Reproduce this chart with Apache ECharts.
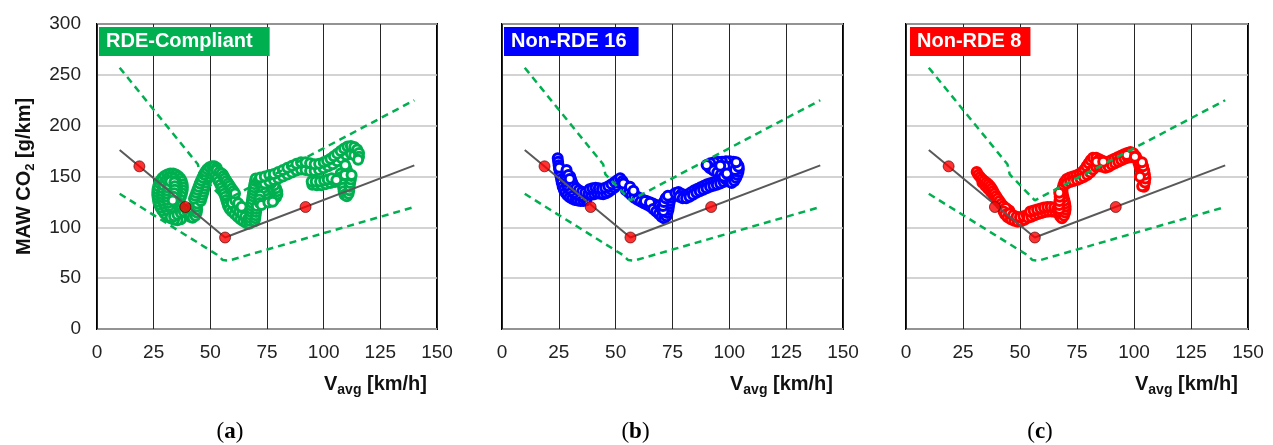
<!DOCTYPE html>
<html><head><meta charset="utf-8">
<script src="https://cdn.jsdelivr.net/npm/echarts/dist/echarts.min.js"></script>
<style>html,body{margin:0;padding:0;background:#fff}#c{width:1273px;height:445px}</style>
</head><body><div id="c"></div>
<script>
// ---- data ----
const panelNames = ['RDE-Compliant', 'Non-RDE 16', 'Non-RDE 8'];
const panelTags = ['a', 'b', 'c'];
const panelColors = ['#00b050', '#0000ff', '#ff0000'];
const xMin = 0, xMax = 150, xStep = 25;
const yMin = 0, yMax = 300, yStep = 50;

// reference CO2 characteristic curve (solid grey) and its 4 defining points
const refLine = [[10,176],[56.5,90],[140,161]];
const refPoints = [[18.7,160],[39,120],[56.5,90],[92,120]];
// tolerance bounds (dashed green)
const upperBound = [[10,257],[44.5,162],[45.5,152],[56.5,126.5],[140,225]];
const lowerBound = [[10,133],[53,73],[55.5,67.8],[58,67.2],[140,120]];

// moving-average windows: [Vavg km/h, MAW CO2 g/km]
const mawRDECompliant = [
[37,108],[35.5,107],[34,107.5],[32.5,109],[31,111],[29.8,113.5],[28.8,116.5],[28,119.5],[27.4,122.5],[27,125.5],[26.8,128.5],[26.6,131.5],[26.6,134.5],[26.7,137.5],[27,140.5],[27.4,143.5],[28,146],[28.8,148.5],[29.8,150.5],[31,152],[32.3,153],[33.6,153],[34.8,152],[35.9,150.3],[36.8,148],[37.4,145.5],[37.8,142.5],[37.9,139.5],[37.8,136.5],[37.5,133.5],[37.1,130.5],[36.6,127.5],[36,124.5],[35.4,121.5],[34.7,118.5],[33.9,115.8],[33,113.5],
[31.8,115],[30.8,117.5],[30,120.5],[29.4,123.5],[29,126.5],[28.8,129.5],[28.7,132.5],[28.8,135.5],[29,138.5],[29.4,141.5],[30,144.5],[30.8,147],[31.8,149],[33,149.5],[34,148],[34.7,145.5],[35.1,142.5],[35.3,139.5],[35.3,136.5],[35.1,133.5],[34.8,130.5],[34.4,127.5],[33.9,124.5],[33.3,121.5],[32.6,119],
[31.8,121],[31.4,124],[31.1,127],[31,130],[31,133],[31.1,136],[31.4,139],[31.8,142],[32.4,145],
[32.5,110],[34,111],[35.5,112.5],[37,114],[38.3,115.5],[39.6,117],[40.8,118.5],[41.8,116.5],[41.5,113.5],[41,110.5],[42.2,109.5],[43.4,111.5],[44,114.5],[44.2,117.5],[44.1,120.5],[44.2,123.5],
[34.1,144],[34.3,140.5],[34.3,137],[34.1,133.5],[33.8,130],[33.4,126.5],
[45.8,126],[46.2,129],[46.6,132],[47,135],[47.3,138],[47.6,141],[48,144],[48.5,147],[49,150],[49.6,153],
[42.8,128],[43.3,131],[43.8,134],[44.3,137],[44.8,140],[45.3,143],[45.9,146],[46.5,149],[47.1,152],[47.8,154.8],[48.6,157.2],[49.6,159.2],[50.7,160.2],[51.8,160],[52.8,158.6],
[51.5,154],[52.3,151],[53,148],[53.7,145],[54.4,142],[55,139],[55.6,136],[56.1,133],[56.6,130],[57,127],[57.4,124],[57.8,121],[58.5,118],
[55.5,152],[56.2,149],[57,146],[57.8,143],
[59.5,115.5],[60.7,113],[62,110.5],[63.3,108],[64.6,106],[66,104],[60.5,121],[61.5,118],[62.7,115.5],[64,113],[65.3,110.5],[66.5,108],[59.5,124],[61,126.5],[62.3,123],[63.5,120],
[52.8,156.3],[54,154.5],[55,153],[55.8,150.5],[56.4,148],[57.1,145.5],[57.9,143.2],[58.6,140.8],[59.4,138.3],[60.2,135.8],[60.9,133.4],[62.3,123.6],[63.8,120.3],
[67.2,103.5],[67.4,106.5],[67.5,109.5],[67.6,112.5],[67.7,115.5],[67.8,118.5],[68,121.5],[68.2,124.5],[68.4,127.5],[68.6,130.5],[68.8,133.5],[69,136.5],[69.2,139.5],[69.4,142.5],[69.7,145.5],[70,148],
[69.5,106],[69.8,109],[70,112],[70.2,115],[70.3,118],[70.5,121],
[71.2,146],[72,143],[72.8,140],[73.5,137],[74.2,134],[75,131],[75.8,128],[76.8,126],[78,127],[79,129.5],[79.6,132.5],[79.5,135.5],[79,138.5],[78.2,141.3],[77,143.5],[75.8,145.5],[72,131],[71.6,127.5],[71.8,124],[72.6,122],[75.6,124.5],[77.5,125.2],
[74,143],[76,145],[78,146.5],[80,148],[82,150],[84,152],[86,154],[88,156],[90,157],[92,156.5],[94,155.5],[96,155.5],[98,156.5],[100,158],[102,160],[104,162],[106,165],[108,168],[110,171],[112,172.5],[113.5,171],
[72,149],[74,150],[76,151.5],[78,152.5],[80,154.5],[82,156.5],[84,158.5],[86,160.5],[88,162.5],[90,164],[92,164],[94,163],[96,162],[98,162.5],[100,164],[101.5,165.5],[103,167.5],[104.5,170],[106,172.5],[107.5,175],[109,177.5],[110.5,179.5],[112,180],[113.5,179],[114.8,176.5],[115.6,173],[115.6,169.5],[115.2,166.5],
[95,142],[97,141.5],[99,141.5],[101,142.5],[103,143.5],[105,144.5],
[107.5,153],[107.8,149.5],[108.1,146],[108.4,142.5],[108.6,139],[108.8,135.5],[109.2,132],[110.2,130.5],[111,133],[111.3,136.5],[111.5,140],[111.7,143.5],[112,147],[112.2,150.5],[110.5,155],[110,158],[109.5,161],
[94.7,145],[96.5,145],[98.4,145],[100.2,146],[101.8,147],[103.5,148.2],[105.6,146.5],[109.4,151.4],[112.3,151.4]
];
const mawNonRDE16 = [
[24.5,168],[24.7,164.5],[24.9,161],[25.1,157.5],[25.4,154],[25.7,150.5],[26,147],[26.3,143.5],[26.7,140],[27.2,137],[27.9,134],[28.8,131.5],[29.8,129.5],[30.9,128],[32.1,127],[33.3,126.3],[34.5,126],[35.8,126],[37,126.7],
[36,129.5],[34.5,131],[33,132.5],[31.5,134],[30.3,136],[29.3,138.5],[28.6,141.5],[28.2,144.5],[28,147.5],[28,150.5],[28.3,153.5],
[30,150],[30.4,147],[30.9,144],[31.6,141],[32.6,138.5],[33.8,136.5],[35.2,135],[36.6,134],
[25.2,158.5],[28.4,156.3],[29.2,151.5],[29.8,147.5],
[38,133],[39.3,132],[40.6,132.5],[41.9,133.5],[43.2,133],[44.5,132.5],[45.8,133.5],[47,135],[48.2,137],[49.4,139],[50.5,141],[51.5,143.5],
[38.5,137.5],[39.8,138.5],[41.2,139],[42.6,138.5],[44,138],[45.4,139],[46.8,140.5],[48.2,142.5],[49.6,144.5],[50.8,146.5],[52,148.2],
[53,145.5],[53.8,142.5],[54.8,139.5],[55.9,137],[57,134.5],[58.2,132],[59.5,130],[60.8,128.5],[62.2,127],[63.6,125.8],[65,124.7],[66.4,123.5],[67.8,122],
[54.5,136.5],[55.8,134],[57,131.5],[58.2,129.2],[59.6,127.2],[61,125.5],[62.4,123.8],[63.8,122.2],[65.2,120.5],
[53.4,143.2],[56.3,140],[57.8,136],[62.9,126],[65.1,124.3],
[66.5,118],[67.8,115.5],[69,113],[70.2,110.5],[71.3,109],[72.3,111],[72.8,114],[73.2,117],[73.4,120],[73.6,123],[73.9,126],[74.4,129],[75.2,131.8],[69.2,121],[70,118.5],[71,116],[70.8,121],[71.2,125],[72,128.5],[73,131],
[76.3,133.8],[77.6,134.8],[79,133],[80.4,131.5],[81.8,132.5],[83.2,134.5],[84.6,136.5],[86,138],[87.4,139.5],[88.8,141],[90.2,142.3],[91.6,143.3],[93,144.3],[94.4,145.5],[95.8,147.2],[97,149.5],
[78,130],[79.5,128.5],[81,128.5],[82.5,130],[84,132],[85.5,134],[87,135.5],[88.5,137],[90,138.5],[91.5,140],[93,141],[94.5,142],[96,143],[97.5,144.5],
[98.5,147],[99.8,145],[101,143.5],[102.2,145.5],[103,148.5],[103.6,151.5],[104,154.5],[104.2,157.5],[104,160.5],[103.2,163],[101.8,164.5],[100.2,165],[98.5,165],[96.8,164.5],[95,164.5],[93.3,164],[91.6,163],[90.5,160.5],[91.5,158],[93,156],[94.7,154],[96.3,152],[97.5,150],[99,152.5],[100.5,155],[101.8,157.5],[100,159.5],[98,160],[96,160.5],
[90,161.2],[98.9,153],[102.5,156.3],[104,159.6],[103,164]
];
const mawNonRDE8 = [
[33.5,144],[34.8,141],[36,138],[37.2,135],[38.3,132],[39.4,129],[40.5,126],[41.6,123],[42.8,120.5],[44,118.5],[45.3,116.5],
[31,154.5],[31.7,151.8],[32.5,149.5],[33.3,147.5],[34.2,145.8],[35.2,144.2],[36.1,142.5],[36.9,140.5],[37.6,138.2],[38.2,135.8],[38.8,133.3],[39.5,130.8],[40.2,128.3],[41,125.8],[41.8,123.3],[42.7,121],[43.7,119],
[42.8,115.5],[43.5,112.5],[44.6,110],[46,108],[47.5,106.5],[49,105.5],[50.5,106],[52,107.5],[45.5,113.5],[47,112],[48.5,110.5],[50,110],[51.5,111],[53,112],[53.5,109.5],[55,110.5],[56.5,112],[58,113],[59.5,114],[61,115],[62.5,115.5],[64,115.5],[65.5,115],[54.5,115.5],[56,116.5],[57.5,117.5],[59,118.5],[60.5,119.5],[62,120],[63.5,120],[65,119.5],[66.3,118],
[67,114],[67.6,111],[68.4,109],[69.3,111.5],[69.8,114.5],[70,117.5],[70,120.5],[69.8,123.5],[69.5,126.5],[69.1,129.5],[68.8,132.5],[68.6,135.5],[68.7,138.5],[69,141.5],[69.5,144.5],
[67.3,118],[67.2,122],[67.3,126],[67.4,130],[67.2,134],
[70.5,147.5],[71.8,149],[73.2,150],[74.6,151],[76,152.5],[77.2,154.5],[78.3,157],[79.2,160],[80.1,163],[81,166],[82,168.5],[83.4,168.5],[84.8,167],[86.2,165.5],[87.6,164],[88.8,164.5],[90,166],[91.4,167.5],[92.8,169],[94.2,170.5],[95.6,172],[97,173.2],[98.4,174],[99.7,172.8],
[70.5,143],[72,144.5],[73.5,145.5],[75,146.5],[76.5,148],[78,149.5],[79.5,151.5],[80.8,154],[82,157],[83.3,159.5],[84.7,160],[86.1,159.5],[87.5,158.5],[88.9,159.5],[90.3,161.5],[91.7,163],[93.1,164.5],[94.5,166],[95.9,167.5],[97.3,168.5],[98.7,169],
[100.8,170],[101.4,167],[101.9,164],[102.3,161],[102.7,158],[103.1,155],[103.5,152],[103.8,149],[104.1,146],[104.3,143],[104.4,140],[103.6,140.5],[104.8,144],[105,148],[104.8,152],[104.5,156],[104,160],[103.5,164],
[83.6,164.6],[86.5,164.6],[96.8,171.1],[100.4,169.5],[102.6,149.8]
];
const mawSeries = [mawRDECompliant, mawNonRDE16, mawNonRDE8];

// ---- layout ----
const gridLeft = [97, 502, 906];
const gridWidth = [340, 341, 342];
const boxOffset = [2, 2, 4];
const boxPadRight = [17, 12, 9];
const FONT = 'Liberation Sans, Arial, sans-serif';

const chart = echarts.init(document.getElementById('c'), null, {renderer: 'canvas'});
const grids = [], xAxes = [], yAxes = [], series = [], titles = [], graphics = [];

for (let i = 0; i < 3; i++) {
  grids.push({left: gridLeft[i], top: 24, width: gridWidth[i], height: 305,
    show: true, borderColor: '#000', borderWidth: 2, backgroundColor: 'transparent'});
  xAxes.push({gridIndex: i, type: 'value', min: xMin, max: xMax, interval: xStep,
    axisLine: {show: false}, axisTick: {show: false},
    axisLabel: {fontSize: 19, color: '#222', margin: 14, fontFamily: FONT},
    splitLine: {show: true, lineStyle: {color: '#262626', width: 1}},
    name: '{a|V}{s|avg}{a| [km/h]}', nameLocation: 'end', nameGap: -10,
    nameTextStyle: {align: 'right', verticalAlign: 'top', padding: [44, 0, 0, 0],
      rich: {
        a: {fontSize: 20, fontWeight: 'bold', fontFamily: FONT, color: '#111', lineHeight: 22, verticalAlign: 'middle'},
        s: {fontSize: 14, fontWeight: 'bold', fontFamily: FONT, color: '#111', lineHeight: 14, padding: [12, 0, 0, 0], verticalAlign: 'middle'}
      }}
  });
  yAxes.push({gridIndex: i, type: 'value', min: yMin, max: yMax, interval: yStep,
    axisLine: {show: false}, axisTick: {show: false},
    axisLabel: {show: i === 0, fontSize: 19, color: '#222', margin: 16, fontFamily: FONT},
    splitLine: {show: true, lineStyle: {color: '#c4c4c4', width: 1.5}},
    name: i === 0 ? '{a|MAW CO}{s|2}{a| [g/km]}' : '', nameLocation: 'middle', nameRotate: 90, nameGap: 62,
    nameTextStyle: {rich: {
      a: {fontSize: 20, fontWeight: 'bold', fontFamily: FONT, color: '#111', lineHeight: 22, verticalAlign: 'middle'},
      s: {fontSize: 13, fontWeight: 'bold', fontFamily: FONT, color: '#111', lineHeight: 13, padding: [12, 0, 0, 0], verticalAlign: 'middle'}
    }}
  });
  series.push({type: 'scatter', xAxisIndex: i, yAxisIndex: i, data: mawSeries[i],
    symbol: 'circle', symbolSize: 9, z: 2, silent: true,
    itemStyle: {color: '#fff', borderColor: panelColors[i], borderWidth: 3, opacity: 1}});
  series.push({type: 'line', xAxisIndex: i, yAxisIndex: i, data: upperBound, symbol: 'none', z: 3, silent: true,
    lineStyle: {color: '#00b050', width: 2.5, type: [7, 5]}});
  series.push({type: 'line', xAxisIndex: i, yAxisIndex: i, data: lowerBound, symbol: 'none', z: 3, silent: true,
    lineStyle: {color: '#00b050', width: 2.5, type: [7, 5]}});
  series.push({type: 'line', xAxisIndex: i, yAxisIndex: i, data: refLine, symbol: 'none', z: 4, silent: true,
    lineStyle: {color: '#595959', width: 2}});
  series.push({type: 'scatter', xAxisIndex: i, yAxisIndex: i, data: refPoints, symbol: 'circle', symbolSize: 11, z: 5, silent: true,
    itemStyle: {color: '#ff0000', borderColor: '#400', borderWidth: 0.8}});
  titles.push({text: panelNames[i], left: gridLeft[i] + boxOffset[i], top: 27, backgroundColor: panelColors[i],
    padding: [4, boxPadRight[i], 4, 7], itemGap: 0,
    textStyle: {color: '#fff', fontWeight: 'bold', fontSize: 20, fontFamily: FONT, lineHeight: 21}});
  graphics.push({type: 'text', x: gridLeft[i] + gridWidth[i] / 2 - 37, y: 432,
    style: {text: '{p|(}{b|' + panelTags[i] + '}{p|)}', align: 'center', verticalAlign: 'middle',
      rich: {p: {fontSize: 23, fontFamily: 'Liberation Serif, serif', fill: '#000'},
             b: {fontSize: 23, fontWeight: 'bold', fontFamily: 'Liberation Serif, serif', fill: '#000'}}}});
}

chart.setOption({
  animation: false,
  backgroundColor: '#fff',
  title: titles,
  grid: grids,
  xAxis: xAxes,
  yAxis: yAxes,
  series: series,
  graphic: graphics
});
</script>
</body></html>
